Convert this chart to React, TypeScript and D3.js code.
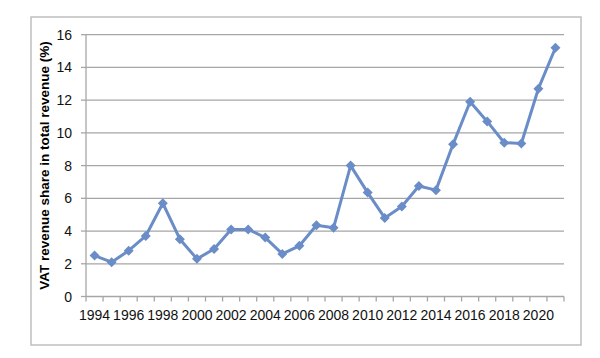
import React from "react";
import * as d3 from "d3";

const years = [1994,1995,1996,1997,1998,1999,2000,2001,2002,2003,2004,2005,2006,2007,2008,2009,2010,2011,2012,2013,2014,2015,2016,2017,2018,2019,2020,2021];
const vatShare = [2.5,2.1,2.8,3.7,5.7,3.5,2.3,2.9,4.1,4.1,3.6,2.6,3.1,4.35,4.2,8.0,6.35,4.8,5.5,6.75,6.5,9.3,11.9,10.7,9.4,9.35,12.7,15.2];
const yTicks = [0,2,4,6,8,10,12,14,16];
const yTitle = "VAT revenue share in total revenue (%)";

export default function App() {
  const W = 600, H = 358;
  const left = 86, right = 564, top = 34.7, bottom = 296.5;
  const x = d3.scaleBand<number>().domain(years).range([left, right]).paddingInner(0).paddingOuter(0);
  const y = d3.scaleLinear().domain([0, 16]).range([bottom, top]);
  const color = "#6A8DC8";
  const font = "'Liberation Sans', Arial, sans-serif";
  const line = d3.line<number>().x((_, i) => x(years[i])! + x.bandwidth() / 2).y(d => y(d));
  const boundaries = years.map(yr => x(yr)!).concat([right]);
  return (
    <svg width={W} height={H} style={{ position: "absolute", left: 0, top: 0, background: "#fff" }}>
      <rect x={31} y={17} width={550} height={328} fill="#fff" stroke="#bfbfbf" strokeWidth={1.5} />
      {yTicks.map(t => (
        <g key={t}>
          {t > 0 && <line x1={left} x2={right} y1={y(t)} y2={y(t)} stroke="#a6a6a6" strokeWidth={1.3} />}
          <line x1={left - 5} x2={left} y1={y(t)} y2={y(t)} stroke="#a6a6a6" strokeWidth={1.3} />
          <text x={72} y={y(t)} dy="0.36em" textAnchor="end" fontFamily={font} fontSize={14} fill="#111">{t}</text>
        </g>
      ))}
      <line x1={left} x2={left} y1={top} y2={bottom} stroke="#a6a6a6" strokeWidth={1.3} />
      <line x1={left} x2={right} y1={bottom} y2={bottom} stroke="#a6a6a6" strokeWidth={1.3} />
      {boundaries.map((bx, i) => (
        <line key={i} x1={bx} x2={bx} y1={bottom} y2={bottom + 5} stroke="#a6a6a6" strokeWidth={1.3} />
      ))}
      {years.map((yr, i) => i % 2 === 0 && (
        <text key={yr} x={x(yr)! + x.bandwidth() / 2} y={320} textAnchor="middle" fontFamily={font} fontSize={14} fill="#111">{yr}</text>
      ))}
      <text transform={`translate(49,${165.5}) rotate(-90)`} textAnchor="middle" fontFamily={font} fontSize={13.5} fontWeight="bold" fill="#000">{yTitle}</text>
      <path d={line(vatShare)!} fill="none" stroke={color} strokeWidth={3} strokeLinejoin="round" />
      {vatShare.map((v, i) => {
        const cx = x(years[i])! + x.bandwidth() / 2, cy = y(v), r = 5;
        return <path key={i} d={`M${cx},${cy - r}L${cx + r},${cy}L${cx},${cy + r}L${cx - r},${cy}Z`} fill={color} />;
      })}
    </svg>
  );
}
